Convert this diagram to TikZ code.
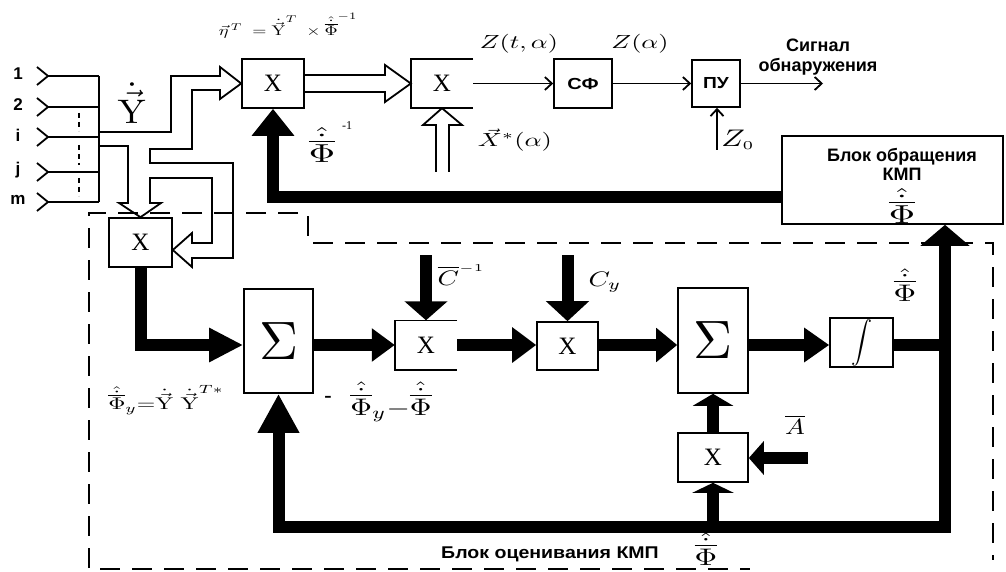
\documentclass[tikz,border=0pt]{standalone}
\usepackage[no-math]{fontspec}
\setmainfont{Liberation Serif}
\newfontfamily\arsans{Liberation Sans}
\usetikzlibrary{arrows.meta,calc}
\newcommand\Phh{\hat{\dot{\overline{\Phi}}}}
\newcommand\Yv{\dot{\vec{\mathrm{Y}}}}
\newcommand\myfs[1]{\fontsize{#1}{#1}\selectfont}
\newcommand\hsx[2]{\scalebox{#1}[1]{#2}}
\newcommand\mth[3]{{\myfs{10}\pgfmathsetmacro\mthx{#1*#2/10}\pgfmathsetmacro\mthy{#1/10}\scalebox{\mthx}[\mthy]{$#3$}}}
\tikzset{
  box/.style={draw, line width=1.6pt, inner sep=0pt, font=\myfs{25}},
  nobox/.style={inner sep=0pt, font=\myfs{25}},
  tline/.style={line width=1.8pt},
  hl/.style={line width=1.8pt, line join=miter},
  thk/.style={line width=12pt, line join=miter},
  tarr/.style={-{Straight Barb[length=7pt,width=13pt]}},
  dsh/.style={line width=2.4pt, dash pattern=on 20pt off 12pt},
  sanslab/.style={inner sep=0pt, font=\arsans\bfseries\myfs{17}},
  lab/.style={inner sep=0pt}
}
\begin{document}
\begin{tikzpicture}[x=1pt,y=-1pt]
\fill[white] (0,0) rectangle (1006,572);
\useasboundingbox (0,0) rectangle (1006,572);

% ---- boxes
\node[box, minimum width=62pt, minimum height=49pt] (X1) at (273,83.5) {X};
\node[nobox, minimum width=62pt, minimum height=49pt] (X2) at (442,83.5) {X};
\draw[line width=1.6pt] (X2.north east) -- (X2.north west) -- (X2.south west) -- (X2.south east);
\node[box, minimum width=58pt, minimum height=49pt, font=\arsans\bfseries\myfs{16}] (SF) at (583,83.5) {\hsx{1.25}{СФ}};
\node[box, minimum width=48pt, minimum height=47pt, font=\arsans\bfseries\myfs{16}] (PU) at (716,83.5) {\hsx{1.2}{ПУ}};
\node[box, minimum width=221pt, minimum height=88pt] (BO) at (892.5,180) {};
\node[box, minimum width=63pt, minimum height=49pt] (X3) at (140.5,242.5) {X};
\node[box, minimum width=69pt, minimum height=104pt] (S1) at (278.5,341) {\mth{54}{1}{\Sigma}};
\node[nobox, minimum width=62pt, minimum height=49pt] (X4) at (426,345) {X};
\draw[line width=1.6pt] (X4.north east) -- (X4.north west) -- (X4.south west) -- (X4.south east);
\node[box, minimum width=61pt, minimum height=48pt] (X5) at (567.5,346) {X};
\node[box, minimum width=70pt, minimum height=105pt] (S2) at (713,340.5) {\mth{54}{1}{\Sigma}};
\node[box, minimum width=63pt, minimum height=49pt] (INT) at (861.5,342.5) {\mth{21}{1}{\displaystyle\int}};
\node[box, minimum width=70pt, minimum height=49pt] (X7) at (713,457.5) {X};

% ---- inputs
\coordinate (bt) at (99,76);
\coordinate (bb) at (99,202);
\foreach \yy/\tt [count=\k] in {76/1,107/2,137/i,172/j,202/m}{
  \node[sanslab] (in\k) at (18,\yy-2) {\tt};
  \coordinate (c\k) at (48,\yy);
  \draw[hl] ($(c\k)+(-11,-9)$) -- (c\k) -- ($(c\k)+(-11,9)$);
  \draw[hl] (c\k) -- (c\k -| bt);
}
\draw[hl] (bt) -- (bb);
\foreach \ya/\yb in {113/131,145/165,178/196}{
  \draw[line width=2.6pt, dash pattern=on 5pt off 4pt] (79,\ya) -- (79,\yb);
}

% ---- hollow arrows
\draw[hl] (99,132) -- (171,132) -- (171,76) -- (220,76) -- (220,67) -- (X1.west)
  -- (220,99) -- (220,90) -- (192,90) -- (192,149) -- (150,149) -- (150,163)
  -- (233,163) -- (233,258) -- (192,258) -- (192,267) -- ($(X3.east)+(0,7.5)$)
  -- (192,233) -- (192,243) -- (212,243) -- (212,178) -- (150,178) -- (150,203)
  -- (161,203) -- (X3.north) -- (119,203) -- (128,203) -- (128,146) -- (99,146);
\draw[hl] ($(X1.east)+(0,-8.5)$) -- (385,75) -- (385,65) -- (X2.west)
  -- (385,102) -- (385,92) -- ($(X1.east)+(0,8.5)$);
\coordinate (xin) at (442.5,172);
\draw[hl] ($(xin)+(-6.5,0)$) -- (436,125) -- (423,125) -- (X2.south)
  -- (462,125) -- (449,125) -- ($(xin)+(6.5,0)$);

% ---- thin arrows
\draw[tline, tarr] (X2.east) -- (SF.west);
\draw[tline, tarr] (SF.east) -- (PU.west);
\coordinate (out) at (823,83.5);
\draw[tline, tarr] (PU.east) -- (out);
\coordinate (z0) at (717,150);
\draw[tline, tarr] (z0) -- (z0 |- PU.south);

% ---- thick arrows
\coordinate (fb) at ($(BO.west)+(0,17)$);
\draw[thk, -{Triangle[length=27pt,width=41pt]}] (fb) -| (X1.south);
\draw[thk, -{Triangle[length=34pt,width=32pt]}] (X3.south) |- (S1.west |- X4.west);
\draw[thk, -{Triangle[length=23pt,width=32pt]}] (S1.east |- X4.west) -- (X4.west);
\coordinate (cinv) at (426,255);
\draw[thk, -{Triangle[length=19pt,width=42pt]}] (cinv) -- (X4.north);
\draw[thk, -{Triangle[length=24pt,width=34pt]}] (X4.east) -- (X5.west |- X4.east);
\coordinate (cy) at (567.5,255);
\draw[thk, -{Triangle[length=20pt,width=42pt]}] (cy) -- (X5.north);
\draw[thk, -{Triangle[length=21pt,width=33pt]}] (X5.east |- X4.east) -- (S2.west |- X4.east);
\draw[thk, -{Triangle[length=25pt,width=33pt]}] (S2.east |- X4.east) -- (INT.west |- X4.east);
\coordinate (rv) at (945,527);
\draw[thk] (INT.east |- X4.east) -- (rv |- X4.east);
\draw[thk, {Triangle[length=21pt,width=48pt]}-{Triangle[length=39pt,width=39pt]}]
  (rv |- BO.south) -- (rv) -- (S1.south |- rv) -- (S1.south);
\draw[thk, -{Triangle[length=12pt,width=40pt]}] (X7.north) -- (S2.south);
\draw[thk, -{Triangle[length=10pt,width=41pt]}] (X7.south |- rv) -- (X7.south);
\coordinate (ain) at (808,458);
\draw[thk, -{Triangle[length=15pt,width=33pt]}] (ain) -- (X7.east |- ain);

% ---- dashed frame
\draw[dsh] (298,213) -- (89,213) -- (89,569) -- (750,569);
\draw[dsh] (308,216) -- (308,243) -- (993,243) -- (993,560);

% ---- labels
\node[lab] (lY) at (132,103) {\mth{34}{1.1}{\Yv}};
\node[lab] (feq) at (288,26) {\mth{14}{1.3}{\vec\eta^{\,T}\;=\Yv^{T}\;\times\Phh^{-1}}};
\node[lab] (lphi1) at (322,145) {\mth{26}{1.4}{\Phh}};
\node[lab] (lm1) at (347,126) {\myfs{12}-1};
\node[lab] (lzt) at (519,44) {\mth{19}{1.38}{Z(t,\alpha)}};
\node[lab] (lza) at (640,44) {\mth{19}{1.38}{Z(\alpha)}};
\node[lab] (lxs) at (515,140) {\mth{19}{1.4}{\vec X^{*}(\alpha)}};
\node[lab] (lz0) at (738,140) {\mth{24}{1.3}{Z_{\scriptscriptstyle 0}}};
\node[lab, align=center, font=\arsans\bfseries\fontsize{18}{20}\selectfont] (lsig) at (818,57) {Сигнал\\обнаружения};
\node[lab, align=center, font=\arsans\bfseries\fontsize{18}{19}\selectfont] (lbo) at (902,164) {Блок обращения\\КМП};
\node[lab] (lphbo) at (902,206) {\mth{26}{1.4}{\Phh}};
\node[lab] (lci) at (461,275) {\mth{21}{1.3}{\overline{C}^{\scriptscriptstyle -1}}};
\node[lab] (lcy) at (605,282) {\mth{21}{1.3}{C_y}};
\node[lab] (lphr) at (905,285) {\mth{24}{1.3}{\Phh}};
\node[lab] (lphy) at (166,400) {\mth{17}{1.4}{\Phh_{y}{=}\Yv\;\Yv^{T*}}};
\node[lab] (lminus) at (328,399) {\myfs{22}\textbf{-}};
\node[lab] (ldiff) at (391,402) {\mth{24}{1.25}{\Phh_{y}{-}\Phh}};
\node[lab] (lA) at (795,425) {\mth{22}{1.2}{\overline{A}}};
\node[lab, font=\arsans\bfseries\myfs{17}] (lbe) at (550,554) {\hsx{1.15}{Блок оценивания КМП}};
\node[lab] (lphb) at (706,549) {\mth{24}{1.3}{\Phh}};
\end{tikzpicture}
\end{document}
